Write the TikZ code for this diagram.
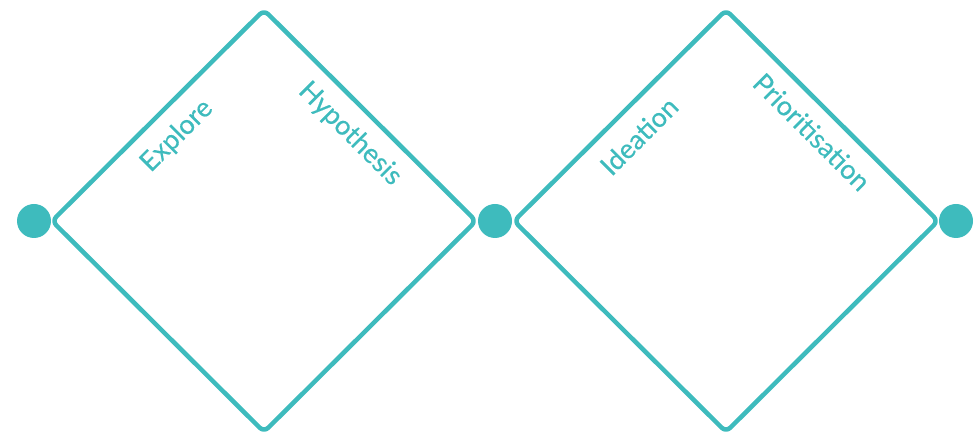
\documentclass[tikz,border=0pt]{standalone}
\usepackage{fontspec}
\setmainfont{Lato}
\newfontfamily\stagefont{Lato}[FakeBold=0.4]
\usepackage{tikz}
\definecolor{diamteal}{RGB}{62,187,189}

\begin{document}
\begin{tikzpicture}[x=1pt, y=1pt,
  phase/.style={draw=diamteal, line width=4.5pt, rounded corners=6pt, line join=round},
  dot/.style={circle, fill=diamteal, minimum size=34pt, inner sep=0pt},
  stage/.style={text=diamteal, font=\stagefont\fontsize{27}{31}\selectfont}
]
\useasboundingbox (0,0) rectangle (975,433);

\coordinate (l1) at (52,212);
\coordinate (t1) at (264,423);
\coordinate (r1) at (476,212);
\coordinate (b1) at (264,1);
\coordinate (l2) at (514,212);
\coordinate (t2) at (726,423);
\coordinate (r2) at (938,212);
\coordinate (b2) at (726,1);

\draw[phase] (l1) -- (t1) -- (r1) -- (b1) -- cycle;
\draw[phase] (l2) -- (t2) -- (r2) -- (b2) -- cycle;

\node[dot] (start) at (34,212) {};
\node[dot] (middle) at (495,212) {};
\node[dot] (finish) at (956,212) {};

\node[stage, rotate=45] (explore) at (177,297) {Explore};
\node[stage, rotate=-45] (hypo) at (350,299) {Hypothesis};
\node[stage, rotate=45] (idea) at (639,297) {Ideation};
\node[stage, rotate=-45] (prio) at (812,301) {Prioritisation};

\end{tikzpicture}
\end{document}
